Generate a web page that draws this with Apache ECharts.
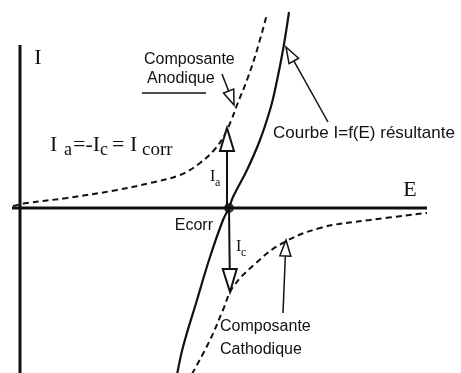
<!DOCTYPE html>
<html>
<head>
<meta charset="utf-8">
<script src="https://cdn.jsdelivr.net/npm/echarts@6/dist/echarts.min.js"></script>
<style>
  html, body { margin: 0; padding: 0; background: #fff; }
  #chart { width: 461px; height: 373px; }
</style>
</head>
<body>
<div id="chart"></div>
<script>
// Polarisation curves around the corrosion potential (arbitrary units: E right, I up)
const axisE = [[-8, 0], [407, 0]];
const axisI = [[0, 163], [0, -167]];

// Resulting curve I = f(E)
const resultCurve = [
  [157, -167], [163, -139], [177, -92], [190, -49], [203, -12], [209, 0],
  [213, 11], [227, 38], [240, 68], [250, 98], [255, 118], [263, 158], [269, 196]
];

// Anodic partial current
const anodicCurve = [
  [-7, 2], [7, 5], [47, 10], [97, 18], [130, 25], [160, 33],
  [180, 45], [195, 59], [204, 72], [211, 87], [217, 103], [227, 128], [237, 158], [247, 194]
];

// Cathodic partial current
const cathodicCurve = [
  [172, -166], [190, -132], [203, -102], [213, -79], [235, -56],
  [261, -36], [300, -20], [350, -12], [407, -5]
];

// Corrosion potential
const ecorrPoint = [[209, 0]];

// Arrows: [E start, I start, E tip, I tip]
const arrows = [
  [207, 0, 207, 80],     // Ia
  [209, 0, 210, -84],    // Ic
  [202, 134, 214, 103],  // pointer to anodic component
  [308, 86, 266, 161],   // pointer to resulting curve
  [263, -105, 266, -32]  // pointer to cathodic component
];
const arrowHeads = [
  { len: 23, width: 14, lw: 2 },
  { len: 23, width: 14, lw: 2 },
  { len: 15, width: 11, lw: 1.5 },
  { len: 16, width: 11, lw: 1.5 },
  { len: 16, width: 11, lw: 1.5 }
];

const INK = '#111';
const SERIF = '"Liberation Serif", "DejaVu Serif", serif';
const SANS = '"Liberation Sans", Arial, sans-serif';

function lineSeries(name, data, width, dashed, smooth) {
  return {
    name, type: 'line', data, smooth: smooth, showSymbol: false, symbol: 'none',
    silent: true, animation: false, z: 2,
    lineStyle: { color: INK, width, type: dashed ? [6, 4] : 'solid', cap: 'butt' }
  };
}

function renderArrow(params, api) {
  const p0 = api.coord([api.value(0), api.value(1)]);
  const p1 = api.coord([api.value(2), api.value(3)]);
  const h = arrowHeads[params.dataIndex];
  const dx = p1[0] - p0[0], dy = p1[1] - p0[1];
  const L = Math.sqrt(dx * dx + dy * dy);
  const ux = dx / L, uy = dy / L;
  const bx = p1[0] - ux * h.len, by = p1[1] - uy * h.len;
  const nx = -uy * h.width / 2, ny = ux * h.width / 2;
  return {
    type: 'group',
    children: [
      { type: 'line', shape: { x1: p0[0], y1: p0[1], x2: bx, y2: by },
        style: { stroke: INK, lineWidth: h.lw } },
      { type: 'polygon', shape: { points: [[p1[0], p1[1]], [bx + nx, by + ny], [bx - nx, by - ny]] },
        style: { fill: '#fff', stroke: INK, lineWidth: h.lw } }
    ]
  };
}

const chart = echarts.init(document.getElementById('chart'), null, { renderer: 'canvas' });

function txt(text, x, y, font, size, align) {
  return {
    type: 'text', x, y, silent: true,
    style: { text, fontFamily: font, fontSize: size, fill: INK, align: align || 'left', verticalAlign: 'middle' }
  };
}

chart.setOption({
  backgroundColor: '#fff',
  animation: false,
  grid: { left: 0, right: 0, top: 0, bottom: 0 },
  xAxis: { type: 'value', min: -20, max: 441, show: false },
  yAxis: { type: 'value', min: -165, max: 208, show: false },
  series: [
    lineSeries('axisE', axisE, 3, false, false),
    lineSeries('axisI', axisI, 3, false, false),
    lineSeries('Courbe résultante', resultCurve, 2.2, false, 0.4),
    lineSeries('Composante anodique', anodicCurve, 2, true, 0.4),
    lineSeries('Composante cathodique', cathodicCurve, 2, true, 0.4),
    {
      name: 'Ecorr', type: 'scatter', data: ecorrPoint, symbol: 'circle', symbolSize: 10,
      itemStyle: { color: INK }, silent: true, z: 5
    },
    {
      name: 'arrows', type: 'custom', data: arrows, renderItem: renderArrow,
      silent: true, z: 4, clip: false
    }
  ],
  graphic: [
    txt('I', 38, 58, SERIF, 22, 'center'),
    txt('E', 410, 190, SERIF, 22, 'center'),
    txt('Composante', 144, 60, SANS, 16),
    txt('Anodique', 147, 79, SANS, 16),
    { type: 'line', shape: { x1: 142, y1: 93, x2: 206, y2: 93 }, style: { stroke: INK, lineWidth: 1.6 }, silent: true },
    // Ia = -Ic = Icorr
    txt('I', 50, 145, SERIF, 22),
    txt('a', 64, 150, SERIF, 18),
    txt('=-I', 73, 145, SERIF, 22),
    txt('c', 100, 150, SERIF, 18),
    txt('= I', 112, 145, SERIF, 22),
    txt('corr', 142, 150, SERIF, 19),
    // branch currents at Ecorr
    txt('I', 210, 177, SERIF, 16),
    txt('a', 215, 183, SERIF, 12),
    txt('I', 236, 247, SERIF, 16),
    txt('c', 241, 253, SERIF, 12),
    txt('Ecorr', 213, 226, SANS, 16, 'right'),
    txt('Courbe I=f(E) résultante', 273, 133, SANS, 17),
    txt('Composante', 220, 327, SANS, 16),
    txt('Cathodique', 220, 350, SANS, 16)
  ]
});
</script>
</body>
</html>
